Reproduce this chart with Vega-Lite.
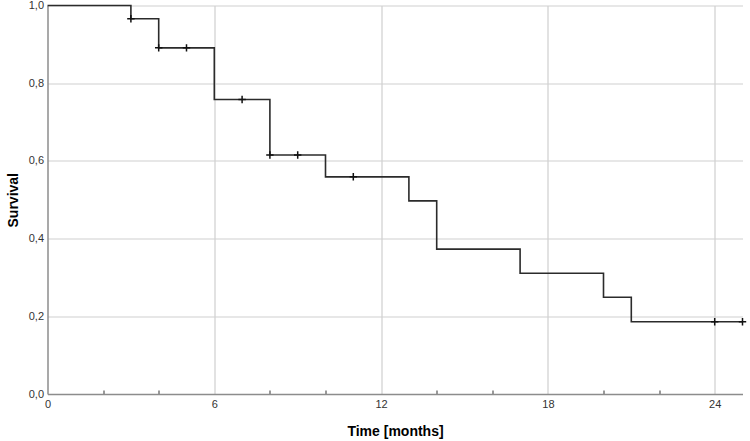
{
  "$schema": "https://vega.github.io/schema/vega-lite/v6.json",
  "autosize": "none",
  "width": 695,
  "height": 388.5,
  "padding": {"left": 47.5, "top": 5.5, "right": 7, "bottom": 47},
  "background": "white",
  "config": {
    "view": {"stroke": null},
    "font": "Liberation Sans",
    "axis": {
      "labelFont": "Liberation Sans",
      "labelFontSize": 11,
      "labelColor": "#333333",
      "titleFont": "Liberation Sans",
      "titleFontSize": 14,
      "titleFontWeight": "bold",
      "titleColor": "#000000",
      "domainColor": "#8c8c8c",
      "domainWidth": 1.5,
      "gridColor": "#cfcfcf",
      "gridWidth": 1.2
    }
  },
  "datasets": {
    "steps": [
      {"time": 0, "survival": 1.0},
      {"time": 3, "survival": 0.966},
      {"time": 4, "survival": 0.891},
      {"time": 6, "survival": 0.758},
      {"time": 8, "survival": 0.615},
      {"time": 10, "survival": 0.559},
      {"time": 13, "survival": 0.497},
      {"time": 14, "survival": 0.373},
      {"time": 17, "survival": 0.311},
      {"time": 20, "survival": 0.249},
      {"time": 21, "survival": 0.186},
      {"time": 25, "survival": 0.186}
    ],
    "censored": [
      {"time": 3, "survival": 0.966},
      {"time": 4, "survival": 0.891},
      {"time": 5, "survival": 0.891},
      {"time": 7, "survival": 0.758},
      {"time": 8, "survival": 0.615},
      {"time": 9, "survival": 0.615},
      {"time": 11, "survival": 0.559},
      {"time": 24, "survival": 0.186},
      {"time": 25, "survival": 0.186}
    ]
  },
  "encoding": {
    "x": {
      "field": "time",
      "type": "quantitative",
      "title": "Time [months]",
      "scale": {"domain": [0, 25], "nice": false, "zero": true},
      "axis": {
        "values": [0, 2, 4, 6, 8, 10, 12, 14, 16, 18, 20, 22, 24],
        "labelExpr": "datum.value % 6 === 0 ? datum.label : ''",
        "grid": true,
        "gridOpacity": {"condition": {"test": "datum.value % 6 === 0 && datum.value > 0", "value": 1}, "value": 0},
        "ticks": true,
        "tickSize": -4,
        "tickColor": "#555555",
        "tickWidth": 1.2,
        "tickOpacity": {"condition": {"test": "datum.value % 6 === 0", "value": 0}, "value": 1},
        "labelPadding": 8,
        "labelFlush": false,
        "titlePadding": 15
      }
    },
    "y": {
      "field": "survival",
      "type": "quantitative",
      "title": "Survival",
      "scale": {"domain": [0, 1], "nice": false},
      "axis": {
        "values": [0, 0.2, 0.4, 0.6, 0.8, 1.0],
        "labelExpr": "replace(format(datum.value, '.1f'), '.', ',')",
        "ticks": false,
        "labelPadding": 4,
        "grid": true,
        "gridOpacity": {"condition": {"test": "datum.value > 0", "value": 1}, "value": 0},
        "titlePadding": 8
      }
    }
  },
  "layer": [
    {
      "data": {"name": "steps"},
      "mark": {"type": "line", "interpolate": "step-after", "color": "#2b2b2b", "strokeWidth": 1.6}
    },
    {
      "data": {"name": "censored"},
      "mark": {
        "type": "point",
        "shape": "M-1,0H1M0,-1V1",
        "filled": false,
        "size": 55,
        "color": "#111111",
        "strokeWidth": 1.5,
        "opacity": 1
      }
    }
  ]
}
